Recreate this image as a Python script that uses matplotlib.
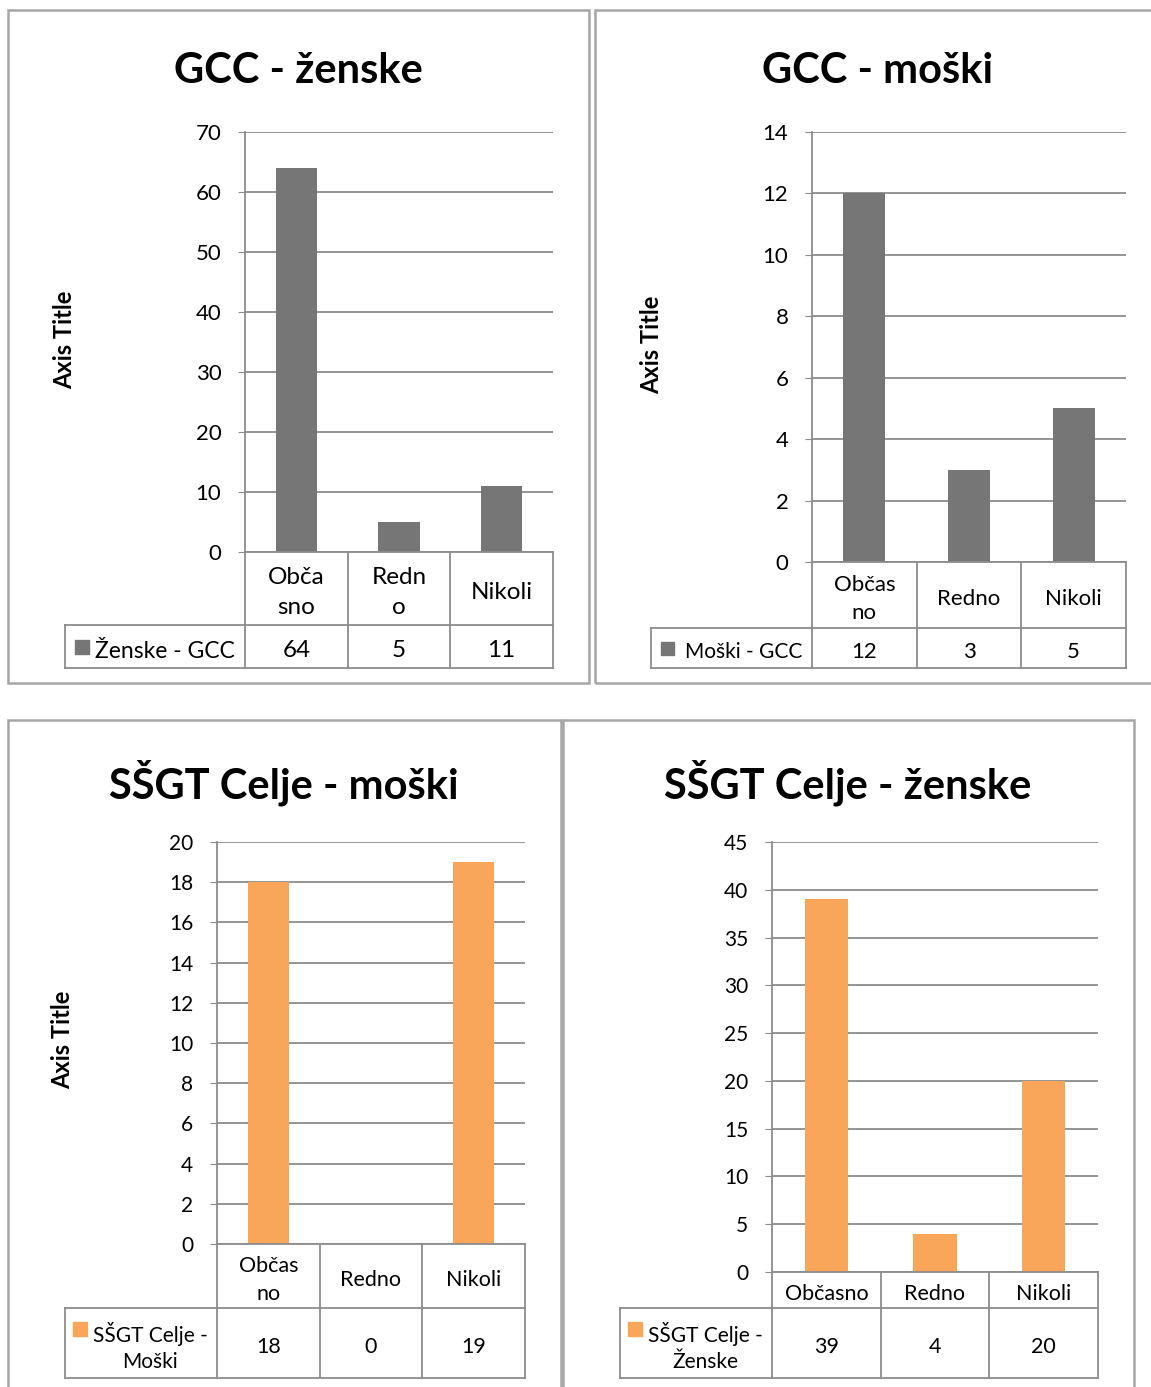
import matplotlib
matplotlib.use('Agg')
import matplotlib.pyplot as plt
from matplotlib.patches import Rectangle
from matplotlib.lines import Line2D

plt.rcParams['font.family'] = ['Lato', 'DejaVu Sans']

W, H = 1151, 1387

# podatki
kategorije = ['Občasno', 'Redno', 'Nikoli']
gcc_zenske = [64, 5, 11]
gcc_moski = [12, 3, 5]
ssgt_moski = [18, 0, 19]
ssgt_zenske = [39, 4, 20]

# oznake kategorij kot v izvirniku (prelomljene)
oznake_1 = ['Obča\nsno', 'Redn\no', 'Nikoli']
oznake_2 = ['Občas\nno', 'Redno', 'Nikoli']
oznake_3 = ['Občas\nno', 'Redno', 'Nikoli']
oznake_4 = ['Občasno', 'Redno', 'Nikoli']

SIVA = '#767676'
ORANZNA = '#F9A65A'
MREZA = '#8C8C8C'
OKVIR = '#A6A6A6'

fig = plt.figure(figsize=(W / 100, H / 100), dpi=100)


def fx(x):
    return x / W


def fy(y):
    return 1 - y / H


def hline(x0, x1, y, c=MREZA, lw=1.3):
    fig.add_artist(Line2D([fx(x0), fx(x1)], [fy(y), fy(y)], color=c, lw=lw,
                          transform=fig.transFigure))


def vline(x, y0, y1, c=MREZA, lw=1.3):
    fig.add_artist(Line2D([fx(x), fx(x)], [fy(y0), fy(y1)], color=c, lw=lw,
                          transform=fig.transFigure))


def graf(okvir, plot, cat_bot, val_bot, leg_left, naslov, nasl_pos, vrednosti,
         oznake, ymax, korak, barva, legenda, leg_sq, fs, fs_tick, fs_leg, ls, os_naslov=None):
    # okvir grafa
    fx0, fy0, fx1, fy1 = okvir
    fig.add_artist(Rectangle((fx(fx0), fy(fy1)), fx(fx1 - fx0), (fy1 - fy0) / H,
                             fill=False, ec=OKVIR, lw=1.8, transform=fig.transFigure))
    x0, y0, x1, y1 = plot
    ax = fig.add_axes([fx(x0), fy(y1), fx(x1 - x0), (y1 - y0) / H])
    ax.bar(range(len(vrednosti)), vrednosti, width=0.4, color=barva, zorder=3)
    ax.set_xlim(-0.5, len(vrednosti) - 0.5)
    ax.set_ylim(0, ymax)
    ax.set_yticks(range(0, ymax + 1, korak))
    ax.tick_params(axis='y', length=5, color=MREZA, labelsize=fs_tick, pad=12)
    ax.set_xticks([])
    ax.grid(axis='y', color=MREZA, lw=1.3, zorder=0)
    for s in ['top', 'right', 'bottom']:
        ax.spines[s].set_visible(False)
    ax.spines['left'].set_color(MREZA)
    ax.spines['left'].set_linewidth(1.3)
    ax.patch.set_alpha(0)

    # tabela s podatki
    n = len(vrednosti)
    meje = [x0 + (x1 - x0) * i / n for i in range(n + 1)]
    hline(x0, x1, y1)
    hline(leg_left, x1, cat_bot)
    hline(leg_left, x1, val_bot)
    for m in meje:
        vline(m, y1, val_bot)
    vline(leg_left, cat_bot, val_bot)
    dy = 4
    for i in range(n):
        xc = (meje[i] + meje[i + 1]) / 2
        fig.text(fx(xc), fy((y1 + cat_bot) / 2 + dy), oznake[i], ha='center', va='center',
                 fontsize=fs, linespacing=ls)
        fig.text(fx(xc), fy((cat_bot + val_bot) / 2 + dy), str(vrednosti[i]), ha='center',
                 va='center', fontsize=fs)
    sx, sy, sz = leg_sq
    fig.add_artist(Rectangle((fx(sx), fy(sy + sz)), fx(sz), sz / H, color=barva,
                             transform=fig.transFigure))
    lx, ly, lha, ltext = legenda
    fig.text(fx(lx), fy(ly), ltext, ha=lha, va='center', fontsize=fs_leg, linespacing=1.4,
             multialignment='center')

    tx, ty = nasl_pos
    fig.text(fx(tx), fy(ty), naslov, ha='center', va='center', fontsize=30,
             fontweight='bold')
    if os_naslov:
        fig.text(fx(os_naslov[0]), fy(os_naslov[1]), 'Axis Title', rotation=90,
                 ha='center', va='center', fontsize=17, fontweight='bold')
    return ax


graf((8, 10, 589, 683), (245, 132, 553, 552), 625, 668, 65, 'GCC - ženske', (298, 71),
     gcc_zenske, oznake_1, 70, 10, SIVA, (95, 652, 'left', 'Ženske - GCC'),
     (75, 640, 14), 17.5, 16, 16.5, 1.55, (65, 340))

graf((595, 10, 1160, 683), (812, 132, 1126, 562), 628, 668, 651, 'GCC - moški', (878, 71),
     gcc_moski, oznake_2, 14, 2, SIVA, (685, 652, 'left', 'Moški - GCC'),
     (661, 642, 13), 16, 16, 15, 1.45, (652, 345))

graf((8, 720, 561, 1395), (217, 842, 525, 1244), 1308, 1378, 65, 'SŠGT Celje - moški',
     (284, 783), ssgt_moski, oznake_3, 20, 2, ORANZNA,
     (150, 1347, 'center', 'SŠGT Celje -\nMoški'), (73, 1322, 14), 15.5, 15, 15, 1.45,
     (63, 1040))

graf((563, 720, 1134, 1395), (772, 842, 1098, 1272), 1308, 1378, 620, 'SŠGT Celje - ženske',
     (848, 783), ssgt_zenske, oznake_4, 45, 5, ORANZNA,
     (705, 1347, 'center', 'SŠGT Celje -\nŽenske'), (628, 1322, 14), 15.5, 15, 15, 1.45)

fig.savefig('out.png', dpi=100)
